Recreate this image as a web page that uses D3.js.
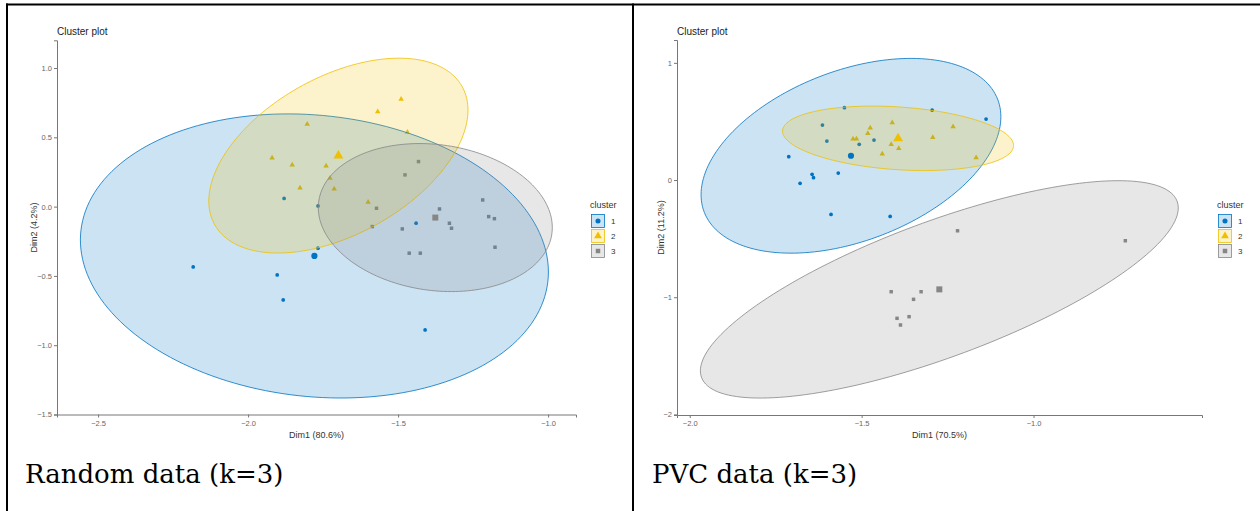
<!DOCTYPE html>
<html>
<head>
<meta charset="utf-8">
<script src="https://cdn.jsdelivr.net/npm/d3@7"></script>
<style>
  html, body { margin: 0; padding: 0; background: #fff; }
  svg { display: block; }
</style>
</head>
<body>
<svg id="chart" width="1260" height="511"></svg>
<script>
// ---------------- DATA ----------------
// Random data (k=3): points [Dim1, Dim2]
const randomCluster1 = [[-2.183,-0.435],[-1.903,-0.493],[-1.883,-0.673],[-1.880,0.059],[-1.767,0.005],[-1.767,-0.300],[-1.440,-0.120],[-1.410,-0.890]];
const randomCluster2 = [[-1.920,0.351],[-1.853,0.301],[-1.827,0.135],[-1.803,0.595],[-1.740,0.294],[-1.727,0.205],[-1.713,0.128],[-1.600,0.032],[-1.568,0.685],[-1.490,0.775],[-1.469,0.537]];
const randomCluster3 = [[-1.432,0.325],[-1.477,0.229],[-1.572,-0.012],[-1.586,-0.144],[-1.362,-0.017],[-1.486,-0.161],[-1.329,-0.120],[-1.322,-0.156],[-1.463,-0.336],[-1.426,-0.336],[-1.218,0.048],[-1.198,-0.072],[-1.179,-0.087],[-1.177,-0.293]];
const randomCentroids = [[-1.779,-0.356],[-1.699,0.368],[-1.376,-0.079]];
// ellipse: [centerX, centerY, halfWidthX, halfHeightY, correlation]
const randomEllipses = [[-1.779,-0.356,0.780,1.025,-0.113],[-1.699,0.368,0.432,0.703,0.467],[-1.376,-0.079,0.390,0.534,-0.135]];

// PVC data (k=3)
const pvcCluster1 = [[-1.712,0.199],[-1.679,-0.028],[-1.644,0.049],[-1.640,0.020],[-1.614,0.469],[-1.601,0.333],[-1.589,-0.293],[-1.568,0.060],[-1.550,0.617],[-1.507,0.305],[-1.464,0.341],[-1.417,-0.311],[-1.295,0.597],[-1.138,0.520]];
const pvcCluster2 = [[-1.525,0.350],[-1.515,0.350],[-1.482,0.398],[-1.475,0.444],[-1.440,0.222],[-1.411,0.489],[-1.414,0.305],[-1.392,0.270],[-1.293,0.363],[-1.234,0.455],[-1.167,0.190]];
const pvcCluster3 = [[-1.414,-0.953],[-1.349,-1.018],[-1.327,-0.953],[-1.397,-1.180],[-1.362,-1.166],[-1.387,-1.237],[-1.221,-0.433],[-0.733,-0.518]];
const pvcCentroids = [[-1.531,0.207],[-1.394,0.356],[-1.274,-0.933]];
const pvcEllipses = [[-1.531,0.207,0.436,0.831,0.400],[-1.394,0.356,0.336,0.275,-0.223],[-1.274,-0.933,0.695,0.9275,0.749]];

const clusterLabels = ["1","2","3"];
const randomXTicks = [-2.5,-2.0,-1.5,-1.0];
const randomYTicks = [-1.5,-1.0,-0.5,0.0,0.5,1.0];
const pvcXTicks = [-2.0,-1.5,-1.0];
const pvcYTicks = [-2,-1,0,1];
const panelTitles = ["Cluster plot","Cluster plot"];
const xTitles = ["Dim1 (80.6%)","Dim1 (70.5%)"];
const yTitles = ["Dim2 (4.2%)","Dim2 (11.2%)"];
const captions = ["Random data (k=3)","PVC data (k=3)"];

// ---------------- STYLE ----------------
const colors = ["#0073C2","#EFC000","#868686"];
const symbols = [d3.symbolCircle, d3.symbolTriangle, d3.symbolSquare];
const sansFont = "'Liberation Sans', Arial, sans-serif";

const svg = d3.select("#chart");

// table borders
svg.append("rect").attr("x",6).attr("y",3.5).attr("width",1254).attr("height",2).attr("fill","#000");
svg.append("rect").attr("x",6).attr("y",3.5).attr("width",2).attr("height",508).attr("fill","#000");
svg.append("rect").attr("x",632).attr("y",3.5).attr("width",2).attr("height",508).attr("fill","#000");

function drawPanel(cfg) {
  const g = svg.append("g");
  const x = d3.scaleLinear().domain(cfg.xDomain).range(cfg.xRange);
  const y = d3.scaleLinear().domain(cfg.yDomain).range(cfg.yRange);

  // points (under ellipses)
  cfg.clusters.forEach((pts, i) => {
    g.append("g").selectAll("path").data(pts).join("path")
      .attr("d", d3.symbol().type(symbols[i]).size(i===0 ? 11 : (i===1 ? 13 : 12)))
      .attr("transform", d => `translate(${x(d[0])},${y(d[1])})`)
      .attr("fill", colors[i]);
  });

  // ellipses
  const line = d3.line().x(d => x(d[0])).y(d => y(d[1])).curve(d3.curveLinearClosed);
  cfg.ellipses.forEach((e, i) => {
    const [cx, cy, rx, ry, r] = e;
    const pts = d3.range(0, 360, 2).map(a => {
      const t = a * Math.PI / 180;
      return [cx + rx * Math.cos(t), cy + ry * (r * Math.cos(t) + Math.sqrt(1 - r*r) * Math.sin(t))];
    });
    g.append("path").attr("d", line(pts))
      .attr("fill", colors[i]).attr("fill-opacity", 0.2)
      .attr("stroke", colors[i]).attr("stroke-width", 0.8);
  });

  // centroids
  g.append("g").selectAll("path").data(cfg.centroids).join("path")
    .attr("d", (d, i) => d3.symbol().type(symbols[i]).size(i===0 ? 30 : (i===1 ? 42 : 36))())
    .attr("transform", d => `translate(${x(d[0])},${y(d[1])})`)
    .attr("fill", (d, i) => colors[i]);

  // axes
  const xAxis = g.append("g").attr("transform", `translate(0,${cfg.yRange[0]})`)
    .call(d3.axisBottom(x).tickValues(cfg.xTicks).tickFormat(d3.format(".1f")).tickSizeOuter(0).tickSize(3).tickPadding(3));
  const yAxis = g.append("g").attr("transform", `translate(${cfg.xRange[0]},0)`)
    .call(d3.axisLeft(y).tickValues(cfg.yTicks).tickFormat(cfg.yFormat).tickSizeOuter(0).tickSize(3).tickPadding(2));
  [xAxis, yAxis].forEach(a => {
    a.select(".domain").attr("stroke", "#777").attr("stroke-width", 1);
    a.selectAll(".tick line").attr("stroke", "#777");
    a.selectAll(".tick text").attr("fill", "#666").style("font-family", sansFont).style("font-size", "7.5px");
  });

  // titles
  g.append("text").attr("x", cfg.xRange[0]).attr("y", 35).text(cfg.title)
    .style("font-family", sansFont).style("font-size", "10px").attr("fill", "#222");
  g.append("text").attr("x", (cfg.xRange[0]+cfg.xRange[1])/2).attr("y", 438).attr("text-anchor","middle")
    .text(cfg.xTitle).style("font-family", sansFont).style("font-size", "9px").attr("fill", "#333");
  g.append("text").attr("transform", `translate(${cfg.yTitleX},${(cfg.yRange[0]+cfg.yRange[1])/2}) rotate(-90)`)
    .attr("text-anchor","middle").text(cfg.yTitle)
    .style("font-family", sansFont).style("font-size", "9px").attr("fill", "#333");

  // legend
  const lg = g.append("g").attr("transform", `translate(${cfg.legendX},0)`);
  lg.append("text").attr("x", 0).attr("y", 208).text("cluster")
    .style("font-family", sansFont).style("font-size", "9px").attr("fill", "#333");
  clusterLabels.forEach((lab, i) => {
    const cy = 221 + i * 15;
    lg.append("rect").attr("x", 1.5).attr("y", cy - 6.5).attr("width", 13).attr("height", 13)
      .attr("fill", colors[i]).attr("fill-opacity", 0.2).attr("stroke", colors[i]).attr("stroke-width", 0.8);
    lg.append("path").attr("d", d3.symbol().type(symbols[i]).size(i===1 ? 26 : 20)())
      .attr("transform", `translate(8,${cy})`).attr("fill", colors[i]);
    lg.append("text").attr("x", 21).attr("y", cy + 3).text(lab)
      .style("font-family", sansFont).style("font-size", "8px").attr("fill", "#333");
  });

  // caption
  svg.append("text").attr("x", cfg.captionX).attr("y", 483).text(cfg.caption)
    .style("font-family", "'DejaVu Serif', serif").style("font-size", "26px").attr("fill", "#000");
}

drawPanel({
  clusters: [randomCluster1, randomCluster2, randomCluster3],
  centroids: randomCentroids, ellipses: randomEllipses,
  xDomain: [-2.637, -0.907], xRange: [57, 576],
  yDomain: [-1.5, 1.2], yRange: [414.5, 40.3],
  xTicks: randomXTicks, yTicks: randomYTicks, yFormat: d3.format(".1f"),
  title: panelTitles[0], xTitle: xTitles[0], yTitle: yTitles[0], yTitleX: 37,
  legendX: 590, caption: captions[0], captionX: 25
});

drawPanel({
  clusters: [pvcCluster1, pvcCluster2, pvcCluster3],
  centroids: pvcCentroids, ellipses: pvcEllipses,
  xDomain: [-2.037, -0.510], xRange: [677, 1202],
  yDomain: [-2.005, 1.195], yRange: [415, 40],
  xTicks: pvcXTicks, yTicks: pvcYTicks, yFormat: d3.format("d"),
  title: panelTitles[1], xTitle: xTitles[1], yTitle: yTitles[1], yTitleX: 664,
  legendX: 1217, caption: captions[1], captionX: 652
});
</script>
</body>
</html>
